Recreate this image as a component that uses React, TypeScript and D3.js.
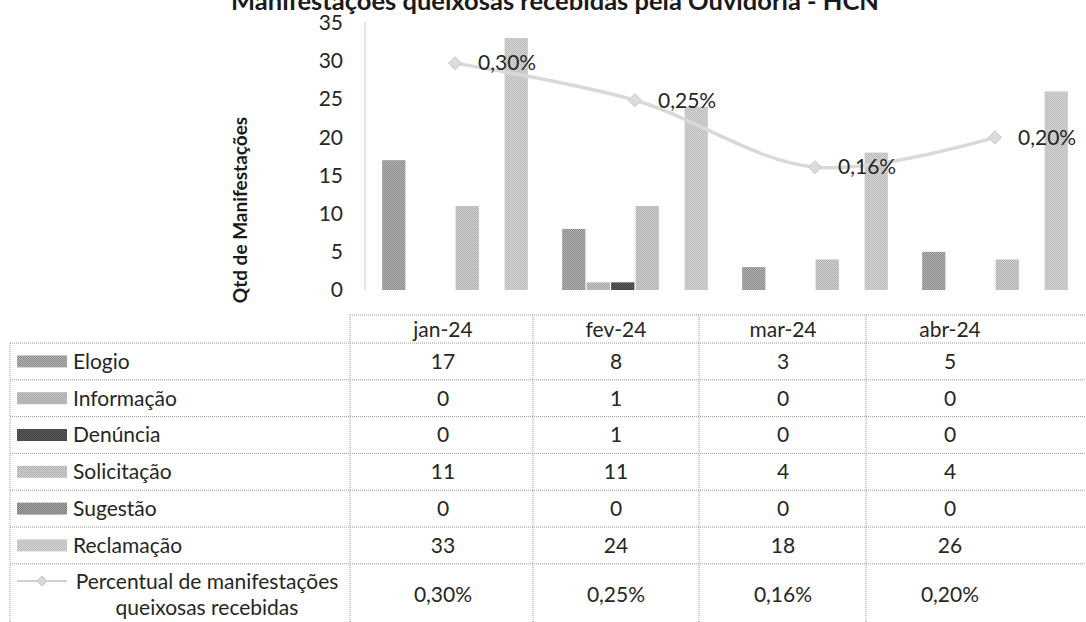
import React from "react";
import * as d3 from "d3";

const title = "Manifestações queixosas recebidas pela Ouvidoria - HCN";
const yAxisTitle = "Qtd de Manifestações";
const months = ["jan-24", "fev-24", "mar-24", "abr-24"];
const seriesNames = ["Elogio", "Informação", "Denúncia", "Solicitação", "Sugestão", "Reclamação"];
const elogio = [17, 8, 3, 5];
const informacao = [0, 1, 0, 0];
const denuncia = [0, 1, 0, 0];
const solicitacao = [11, 11, 4, 4];
const sugestao = [0, 0, 0, 0];
const reclamacao = [33, 24, 18, 26];
const percentual = [0.3, 0.25, 0.16, 0.2];
const lineName1 = "Percentual de manifestações";
const lineName2 = "queixosas recebidas";
const yTicks = [0, 5, 10, 15, 20, 25, 30, 35];

const seriesValues = [elogio, informacao, denuncia, solicitacao, sugestao, reclamacao];
// [dark, light] pair used for a dithered look
const seriesTones: [string, string][] = [
  ["#8a8a8a", "#b4b4b4"],
  ["#a6a6a6", "#c6c6c6"],
  ["#3a3a3a", "#626262"],
  ["#b0b0b0", "#d0d0d0"],
  ["#7a7a7a", "#a8a8a8"],
  ["#bababa", "#d6d6d6"],
];

const FONT = "Lato, 'Open Sans', sans-serif";
const TXT = "#262626";
const GRID = "#9a9a9a";
const FS = 21;

const fmtPct = (v: number) => v.toFixed(2).replace(".", ",") + "%";

export default function App() {
  const W = 1086;
  const H = 622;

  const x = d3.scaleBand<string>().domain(months).range([365, 1085]).padding(0);
  const xs = d3
    .scaleBand<number>()
    .domain(d3.range(seriesNames.length))
    .range([0, x.bandwidth()])
    .paddingOuter(0.7)
    .paddingInner(0.05);
  const y = d3.scaleLinear().domain([0, 35]).range([290, 22.7]);
  const y2 = d3.scaleLinear().domain([0, 0.35]).range([286, 26]);

  const cx = (m: string) => (x(m) as number) + x.bandwidth() / 2;
  const linePts: [number, number][] = months.map((m, i) => [cx(m), y2(percentual[i])]);
  const lineGen = d3.line().curve(d3.curveCatmullRom.alpha(0.5));
  const linePath = lineGen(linePts) || "";

  // table layout
  const colEdges = [350, 533, 699, 866, 1100];
  const colCenters = [443, 616, 783, 950];
  const headerTop = 315;
  const headerBottom = 343;
  const rowH = 36.8;
  const rowTops = d3.range(seriesNames.length + 1).map((i) => headerBottom + i * rowH);
  const tableBottom = 640;
  const leftX = 10;

  const diamond = (px: number, py: number, r: number) =>
    `M${px},${py - r}L${px + r},${py}L${px},${py + r}L${px - r},${py}Z`;

  return (
    <svg width={W} height={H} style={{ position: "absolute", left: 0, top: 0, background: "#fff" }}>
      <defs>
        {seriesTones.map((t, i) => (
          <pattern key={i} id={`pat${i}`} width={2} height={2} patternUnits="userSpaceOnUse">
            <rect width={2} height={2} fill={t[1]} />
            <rect width={1} height={1} fill={t[0]} />
            <rect x={1} y={1} width={1} height={1} fill={t[0]} />
          </pattern>
        ))}
      </defs>

      {/* title (cut off at the top) */}
      <text x={555} y={10} textAnchor="middle" fontFamily={FONT} fontWeight={700} fontSize={25.5} fill="#1a1a1a">
        {title}
      </text>

      {/* y-axis title */}
      <text
        transform={`translate(247,210) rotate(-90)`}
        textAnchor="middle"
        fontFamily={FONT}
        fontWeight={700}
        fontSize={19}
        fill="#1a1a1a"
      >
        {yAxisTitle}
      </text>

      {/* y ticks */}
      {yTicks.map((t) => (
        <text key={t} x={343} y={y(t)} dy="0.35em" textAnchor="end" fontFamily={FONT} fontSize={FS} fill={TXT}>
          {t}
        </text>
      ))}
      <line x1={365} x2={365} y1={y(35)} y2={y(0)} stroke={GRID} strokeDasharray="1,1" />

      {/* bars */}
      {months.map((m, mi) =>
        seriesValues.map((vals, si) => {
          const v = vals[mi];
          if (v <= 0) return null;
          return (
            <rect
              key={`${mi}-${si}`}
              x={(x(m) as number) + (xs(si) as number)}
              y={y(v)}
              width={xs.bandwidth()}
              height={y(0) - y(v)}
              fill={`url(#pat${si})`}
            />
          );
        })
      )}

      {/* line */}
      <path d={linePath} fill="none" stroke="#d9d9d9" strokeWidth={3.5} />
      {linePts.map((p, i) => (
        <g key={i}>
          <path d={diamond(p[0], p[1], 6.5)} fill="#dcdcdc" stroke="#c8c8c8" strokeWidth={1} />
          <text x={p[0] + 23} y={p[1]} dy="0.35em" fontFamily={FONT} fontSize={FS} fill={TXT}>
            {fmtPct(percentual[i])}
          </text>
        </g>
      ))}

      {/* data table */}
      <g stroke={GRID} strokeDasharray="1,1" strokeWidth={1}>
        <line x1={colEdges[0]} x2={W} y1={headerTop} y2={headerTop} />
        {rowTops.map((ry, i) => (
          <line key={i} x1={leftX} x2={W} y1={ry} y2={ry} />
        ))}
        <line x1={leftX} x2={leftX} y1={headerBottom} y2={tableBottom} />
        {colEdges.slice(0, 4).map((cxe, i) => (
          <line key={i} x1={cxe} x2={cxe} y1={headerTop} y2={tableBottom} />
        ))}
      </g>

      {months.map((m, i) => (
        <text
          key={m}
          x={colCenters[i]}
          y={(headerTop + headerBottom) / 2 + 1}
          dy="0.35em"
          textAnchor="middle"
          fontFamily={FONT}
          fontSize={FS}
          fill={TXT}
        >
          {m}
        </text>
      ))}

      {seriesNames.map((name, si) => {
        const top = rowTops[si];
        const mid = top + rowH / 2;
        return (
          <g key={name}>
            <rect x={17} y={mid - 6} width={50} height={12} fill={`url(#pat${si})`} />
            <text x={73} y={mid} dy="0.35em" fontFamily={FONT} fontSize={FS} fill={TXT}>
              {name}
            </text>
            {months.map((m, mi) => (
              <text
                key={m}
                x={colCenters[mi]}
                y={mid}
                dy="0.35em"
                textAnchor="middle"
                fontFamily={FONT}
                fontSize={FS}
                fill={TXT}
              >
                {seriesValues[si][mi]}
              </text>
            ))}
          </g>
        );
      })}

      {/* line legend row */}
      <g>
        <line x1={17} x2={67} y1={581} y2={581} stroke="#d0d0d0" strokeWidth={2} />
        <path d={diamond(42, 581, 5)} fill="#d8d8d8" stroke="#c4c4c4" />
        <text x={207} y={582} dy="0.35em" textAnchor="middle" fontFamily={FONT} fontSize={FS} fill={TXT}>
          {lineName1}
        </text>
        <text x={207} y={608} dy="0.35em" textAnchor="middle" fontFamily={FONT} fontSize={FS} fill={TXT}>
          {lineName2}
        </text>
        {months.map((m, mi) => (
          <text
            key={m}
            x={colCenters[mi]}
            y={595}
            dy="0.35em"
            textAnchor="middle"
            fontFamily={FONT}
            fontSize={FS}
            fill={TXT}
          >
            {fmtPct(percentual[mi])}
          </text>
        ))}
      </g>
    </svg>
  );
}
